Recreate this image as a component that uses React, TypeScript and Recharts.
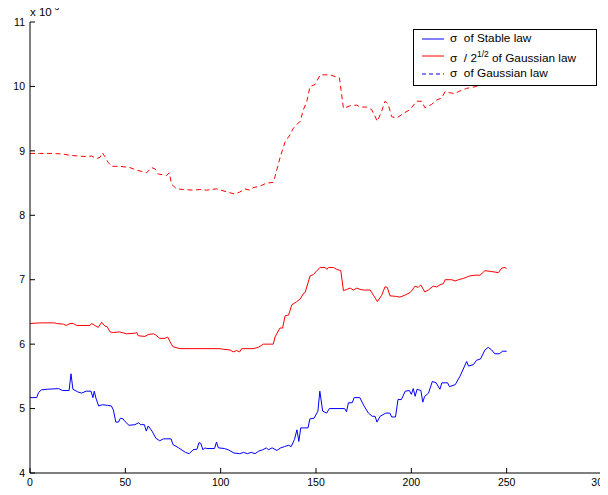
import { LineChart, Line, XAxis, YAxis, Legend } from "recharts";

const xTicks = [0, 50, 100, 150, 200, 250, 300];
const yTicks = [4, 5, 6, 7, 8, 9, 10, 11];

// [day, sigma x 1e-3]
const stableSigma: [number, number][] = [
  [0, 5.17], [3.5, 5.17], [4.5, 5.25], [6, 5.29], [9, 5.3], [15, 5.31], [17, 5.28], [20.5, 5.28],
  [21.5, 5.54], [22.5, 5.3], [25, 5.26], [27, 5.24], [29.5, 5.27], [32, 5.27], [33, 5.17], [33.7, 5.27],
  [34.6, 5.16], [36, 5.04], [38, 5.06], [40.6, 5.05], [42.7, 5.04], [43.7, 4.98], [45, 4.79], [46.4, 4.79],
  [47.4, 4.85], [48.8, 4.84], [49.8, 4.8], [51.9, 4.74], [55, 4.75], [57, 4.78], [58, 4.75], [60, 4.75],
  [61, 4.65], [62, 4.73], [64, 4.65], [66, 4.54], [68, 4.5], [70, 4.53], [74, 4.53], [75, 4.44],
  [78, 4.39], [81.5, 4.32], [83.5, 4.3], [85.5, 4.36], [87.6, 4.37], [88.6, 4.47], [89.6, 4.46], [90.7, 4.36],
  [91.7, 4.39], [92.7, 4.38], [96.8, 4.38], [97.8, 4.48], [98.8, 4.39], [102, 4.38], [104, 4.36], [107, 4.31],
  [110, 4.3], [112, 4.32], [114, 4.3], [116, 4.32], [118, 4.3], [120, 4.34], [122, 4.36], [124, 4.39],
  [125, 4.36], [127, 4.39], [129.5, 4.35], [131.5, 4.39], [133.5, 4.41], [135.6, 4.43], [137, 4.41], [138.7, 4.52],
  [140, 4.67], [141, 4.49], [142, 4.7], [145.8, 4.7], [146.8, 4.84], [149, 4.85], [151, 4.96], [152, 5.27],
  [153.5, 4.96], [155.6, 4.93], [157, 5.0], [165, 5.0], [166, 4.95], [167, 5.09], [169, 5.09], [170, 5.17],
  [173, 5.17], [175, 5.05], [177.5, 4.93], [179.5, 4.88], [181, 4.88], [182, 4.79], [183.6, 4.88], [186.6, 4.93],
  [188.7, 4.93], [189.7, 4.87], [191.7, 4.87], [193, 5.14], [194.8, 5.14], [196.8, 5.27], [199, 5.28], [200, 5.22],
  [201, 5.31], [202, 5.19], [203, 5.3], [205, 5.28], [206, 5.1], [207, 5.19], [209, 5.24], [211, 5.42],
  [213, 5.4], [215, 5.3], [216, 5.4], [219, 5.4], [220, 5.34], [223, 5.37], [225.5, 5.5], [229, 5.73],
  [230, 5.66], [232.5, 5.68], [234.2, 5.75], [236.3, 5.77], [238.6, 5.91], [240.3, 5.95], [242.1, 5.91], [243.8, 5.85],
  [246.1, 5.85], [247.9, 5.89], [250, 5.89],
];

const gaussHalf: [number, number][] = [
  [0, 6.32], [5, 6.33], [13, 6.33], [14, 6.32], [17.5, 6.31], [19, 6.29], [21, 6.32], [22.7, 6.32],
  [24.5, 6.29], [31.5, 6.29], [32.3, 6.32], [34, 6.29], [35.8, 6.26], [37.6, 6.34], [39.3, 6.28], [40.5, 6.27],
  [42, 6.19], [43.7, 6.18], [47, 6.19], [50.7, 6.16], [55, 6.17], [56, 6.18], [56.8, 6.13], [60.3, 6.12],
  [62, 6.15], [64.7, 6.16], [65.6, 6.15], [68, 6.09], [70.8, 6.09], [72.2, 6.11], [73.4, 6.04], [75, 5.96],
  [78.7, 5.93], [99.6, 5.93], [101.4, 5.92], [104.9, 5.91], [106.6, 5.88], [108.4, 5.9], [110, 5.88], [111, 5.93],
  [117, 5.93], [119.7, 5.95], [122.4, 6.0], [127.6, 6.0], [128.5, 6.11], [131.1, 6.25], [132.5, 6.25], [133.8, 6.44],
  [135.6, 6.45], [137.3, 6.61], [139.9, 6.66], [141.7, 6.7], [143.5, 6.79], [144.3, 6.8], [146.9, 7.06], [148.7, 7.08],
  [150.4, 7.14], [152.2, 7.19], [154.8, 7.19], [155.7, 7.16], [156.5, 7.19], [159.1, 7.19], [160.9, 7.16], [163, 7.14],
  [164.4, 6.83], [166.1, 6.85], [167.9, 6.87], [169.6, 6.84], [171.4, 6.87], [173.1, 6.85], [174.9, 6.84], [178.4, 6.84],
  [180.1, 6.76], [182.2, 6.66], [184.5, 6.76], [186.2, 6.89], [187.4, 6.88], [188.8, 6.75], [192.3, 6.74], [194, 6.73],
  [196.6, 6.76], [199.3, 6.8], [200.5, 6.84], [201.9, 6.9], [203.6, 6.88], [204.9, 6.92], [207.1, 6.81], [208.9, 6.84],
  [211.5, 6.9], [213.3, 6.89], [215, 6.92], [216.8, 6.94], [217.7, 7.0], [221.2, 7.0], [222.9, 6.98], [224.7, 7.0],
  [227.3, 7.02], [229, 7.04], [230.8, 7.06], [233.4, 7.07], [236, 7.07], [238.6, 7.14], [241.3, 7.13], [245.7, 7.11],
  [247.4, 7.18], [249.1, 7.19], [250, 7.17],
];

const gaussSigma: [number, number][] = [
  [0, 8.96], [5, 8.96], [12, 8.96], [17.5, 8.95], [21, 8.93], [29.7, 8.91], [32.3, 8.92], [35, 8.88],
  [36.7, 8.9], [38, 8.97], [39.3, 8.91], [41, 8.82], [42.8, 8.76], [47.2, 8.76], [52.4, 8.74], [56, 8.7],
  [61.2, 8.66], [63.8, 8.74], [65.6, 8.72], [67.3, 8.64], [71.7, 8.62], [73, 8.66], [74.3, 8.48], [76.9, 8.41],
  [80.4, 8.4], [85.7, 8.39], [89.1, 8.4], [92.6, 8.39], [97.8, 8.41], [101.3, 8.38], [104.8, 8.35], [107.4, 8.33],
  [110, 8.36], [112.7, 8.41], [115.3, 8.39], [117, 8.43], [120.5, 8.45], [124, 8.5], [127.5, 8.51], [128.5, 8.6],
  [131.1, 8.89], [133.8, 9.14], [136.4, 9.25], [138.1, 9.35], [141.7, 9.46], [143.4, 9.64], [145.2, 9.77], [146.9, 10.0],
  [149.5, 10.03], [152.2, 10.18], [157.4, 10.18], [162.3, 10.13], [164.4, 9.66], [167.9, 9.7], [171.4, 9.71], [173.1, 9.68],
  [176.6, 9.68], [179.2, 9.64], [182.2, 9.46], [184.5, 9.62], [186.2, 9.77], [187.9, 9.72], [189.7, 9.53], [192.3, 9.51],
  [195.8, 9.58], [199.3, 9.64], [202.8, 9.77], [205.4, 9.77], [207.1, 9.67], [210.6, 9.72], [213.3, 9.79], [215.9, 9.82],
  [217.7, 9.92], [220.3, 9.9], [222.9, 9.89], [224.7, 9.92], [229, 9.97], [234.2, 10.0], [238.6, 10.08], [241.3, 10.08],
  [245.7, 10.05], [247.4, 10.15], [250, 10.14],
];

const toPoints = (pairs: [number, number][]) => pairs.map(([x, y]) => ({ x, y }));

const FONT = "'Liberation Sans', Arial, Helvetica, sans-serif";
const tickStyle = { fontSize: 10.5, fill: "#000", fontFamily: FONT };

const legendRows = [
  { key: "stable", color: "#0000ff", dash: undefined, label: <>σ&nbsp; of Stable law</> },
  { key: "half", color: "#ff0000", dash: undefined, label: <>σ&nbsp; / 2<sup style={{ fontSize: 8.5 }}>1/2</sup> of Gaussian law</> },
  { key: "gauss", color: "#0000ff", dash: "4 3", label: <>σ&nbsp; of Gaussian law</> },
];

function LegendBox() {
  return (
    <div
      style={{
        width: 182,
        height: 55,
        border: "1px solid #000",
        background: "#fff",
        fontFamily: FONT,
        fontSize: 11.8,
        color: "#000",
      }}
    >
      {legendRows.map((r) => (
        <div key={r.key} style={{ display: "flex", alignItems: "center", height: 17.5, paddingLeft: 7 }}>
          <svg width={29} height={6} style={{ flex: "none" }}>
            <line x1={1} y1={3} x2={23} y2={3} stroke={r.color} strokeWidth={1} strokeDasharray={r.dash} />
          </svg>
          <span style={{ whiteSpace: "nowrap", lineHeight: "17px" }}>{r.label}</span>
        </div>
      ))}
    </div>
  );
}

function ExponentLabel(props: any) {
  const { viewBox } = props;
  const x = viewBox.x + viewBox.width;
  const y = viewBox.y - 6;
  return (
    <text x={x} y={y} fontSize={11.5} fontFamily={FONT} fill="#000">
      x 10
      <tspan dy={-6} fontSize={8.5}>-3</tspan>
    </text>
  );
}

export default function App() {
  return (
    <div style={{ width: 608, height: 495, margin: -8, background: "#fff" }}>
      <LineChart width={608} height={495} margin={{ top: 22, right: 6, bottom: 0, left: 0 }}>
        <XAxis
          dataKey="x"
          type="number"
          domain={[0, 300]}
          ticks={xTicks}
          height={22}
          tickSize={-5}
          tickMargin={11}
          tick={tickStyle}
          stroke="#000"
          allowDataOverflow
        />
        <XAxis
          xAxisId="top"
          orientation="top"
          dataKey="x"
          type="number"
          domain={[0, 300]}
          ticks={xTicks}
          height={0}
          tickSize={-5}
          tick={false}
          stroke="#000"
        />
        <YAxis
          type="number"
          domain={[4, 11]}
          ticks={yTicks}
          width={30}
          tickSize={-5}
          tickMargin={10}
          tick={tickStyle}
          stroke="#000"
          allowDataOverflow
          label={<ExponentLabel />}
        />
        <YAxis
          yAxisId="right"
          orientation="right"
          type="number"
          domain={[4, 11]}
          ticks={yTicks}
          width={0}
          tickSize={-5}
          tick={false}
          stroke="#000"
        />
        <Line
          data={toPoints(gaussSigma)}
          dataKey="y"
          name="gauss"
          stroke="#ff0000"
          strokeWidth={1}
          strokeDasharray="5 3.5"
          dot={false}
          activeDot={false}
          isAnimationActive={false}
        />
        <Line
          data={toPoints(gaussHalf)}
          dataKey="y"
          name="half"
          stroke="#ff0000"
          strokeWidth={1}
          dot={false}
          activeDot={false}
          isAnimationActive={false}
        />
        <Line
          data={toPoints(stableSigma)}
          dataKey="y"
          name="stable"
          stroke="#0000ff"
          strokeWidth={1}
          dot={false}
          activeDot={false}
          isAnimationActive={false}
        />
        <Legend
          layout="vertical"
          align="center"
          verticalAlign="middle"
          content={<LegendBox />}
          wrapperStyle={{ left: 413, top: 29, width: 184, height: 57 }}
        />
      </LineChart>
    </div>
  );
}
